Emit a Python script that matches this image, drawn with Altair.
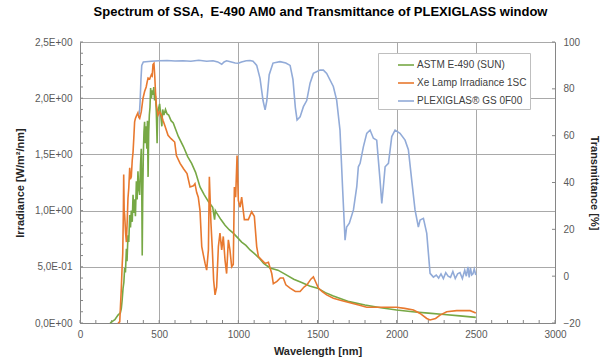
import altair as alt
import pandas as pd

TITLE = "Spectrum of SSA,\u00a0 E-490 AM0 and Transmittance of PLEXIGLASS window"
SERIES = ["ASTM E-490 (SUN)", "Xe Lamp Irradiance 1SC", "PLEXIGLAS® GS 0F00"]
COLORS = ["#77a845", "#e8792f", "#92abd8"]

astm_wl = [190, 200, 220, 240, 255, 261, 266, 272, 277, 282, 287, 293, 297, 303, 308,
           314, 319, 324, 330, 335, 340, 345, 350, 356, 361, 366, 371, 377, 382, 387,
           390, 393, 396, 400, 404, 408, 412, 417, 422, 426, 430, 434, 438, 442, 446,
           451, 455, 461, 466, 471, 477, 482, 487, 490, 495, 503, 510, 517, 522, 530,
           540, 550, 560, 575, 589, 605, 621, 653, 680, 705, 730, 758, 785, 811, 838,
           850, 855, 863, 890, 916, 942, 968, 995, 1021, 1048, 1074, 1100, 1130, 1160, 1200,
           1250, 1300, 1350, 1400, 1450, 1500, 1550, 1600, 1700, 1800, 1900, 2000, 2100, 2200, 2300,
           2400, 2500]
astm_irr = [0.0, 0.01, 0.03, 0.07, 0.09, 0.13, 0.2, 0.31, 0.36, 0.49, 0.45, 0.66, 0.55, 0.78, 0.72,
            0.96, 0.85, 1.0, 0.9, 1.14, 0.98, 1.1, 0.95, 1.26, 1.1, 1.35, 1.2, 1.14, 1.4, 1.55,
            1.2, 0.6, 1.1, 1.5, 1.7, 1.79, 1.6, 1.75, 1.55, 1.8, 1.3, 1.7, 1.85, 1.92, 2.09,
            2.0, 2.07, 2.03, 2.1, 1.98, 2.02, 1.88, 1.6, 1.85, 1.9, 1.95, 1.85, 1.75, 1.9, 1.85,
            1.9, 1.86, 1.85, 1.8, 1.78, 1.72, 1.66, 1.57, 1.48, 1.42, 1.34, 1.21, 1.14, 1.08, 1.03,
            0.92, 1.0, 0.98, 0.92, 0.87, 0.83, 0.80, 0.76, 0.72, 0.69, 0.65, 0.62, 0.58, 0.53, 0.49,
            0.47, 0.43, 0.39, 0.36, 0.33, 0.31, 0.27, 0.24, 0.19, 0.16, 0.135, 0.115, 0.10, 0.088, 0.075,
            0.063, 0.05]

xe_wl = [240, 251, 261, 266, 270, 274, 276, 279, 282, 288, 293, 298, 303, 308, 314,
         318, 324, 330, 335, 340, 345, 350, 356, 366, 372, 377, 387, 398, 408, 418,
         425, 430, 440, 451, 456, 461, 467, 472, 477, 482, 493, 503, 514, 525, 535,
         556, 575, 598, 609, 632, 655, 676, 695, 716, 726, 737, 747, 758, 769, 780,
         790, 800, 811, 817, 822, 827, 836, 844, 853, 863, 874, 884, 895, 905, 916,
         926, 937, 947, 958, 968, 975, 983, 992, 1000, 1011, 1021, 1038, 1063, 1084, 1101,
         1116, 1127, 1148, 1169, 1190, 1211, 1221, 1244, 1265, 1284, 1300, 1327, 1360, 1390, 1415,
         1434, 1458, 1474, 1490, 1506, 1530, 1558, 1600, 1650, 1705, 1760, 1811, 1900, 2000, 2050,
         2106, 2148, 2190, 2211, 2246, 2274, 2316, 2379, 2420, 2464, 2500]
xe_irr = [0.0, 0.01, 0.31, 0.5, 0.62, 1.0, 1.32, 1.0, 0.96, 0.8, 0.72, 0.9, 1.11, 1.2, 1.38,
          1.28, 1.3, 1.45, 1.52, 1.65, 1.79, 1.82, 1.84, 1.87, 1.83, 1.82, 1.88, 2.0, 2.06, 2.1,
          2.15, 2.18, 2.17, 2.21, 2.2, 2.3, 2.31, 2.2, 2.05, 1.94, 1.85, 1.88, 1.85, 1.8, 1.76,
          1.67, 1.64, 1.61, 1.49, 1.42, 1.37, 1.33, 1.21, 1.22, 1.24, 1.16, 1.12, 1.0, 0.68, 0.6,
          0.53, 0.47, 0.65, 1.3, 1.1, 0.89, 0.65, 0.38, 0.25, 0.32, 0.68, 0.8, 0.65, 0.77, 0.56,
          0.44, 0.74, 0.65, 0.5, 0.52, 1.21, 1.12, 1.49, 1.09, 1.03, 1.12, 0.92, 0.92, 0.99, 0.95,
          0.68, 0.59, 0.56, 0.53, 0.54, 0.44, 0.35, 0.37, 0.40, 0.40, 0.34, 0.31, 0.28, 0.28, 0.32,
          0.34, 0.39, 0.41, 0.36, 0.31, 0.28, 0.25, 0.22, 0.20, 0.18, 0.16, 0.14, 0.14, 0.14, 0.13,
          0.115, 0.085, 0.04, 0.027, 0.04, 0.07, 0.10, 0.11, 0.11, 0.11, 0.09]

plexi_wl = [375, 380, 385, 390, 400, 450, 500, 550, 600, 650, 700, 750, 800, 840, 870,
            895, 910, 926, 950, 980, 1000, 1020, 1050, 1074, 1093, 1116, 1137, 1156, 1169, 1180,
            1195, 1219, 1263, 1300, 1327, 1345, 1360, 1371, 1390, 1411, 1432, 1453, 1474, 1516, 1537,
            1558, 1600, 1621, 1642, 1659, 1674, 1684, 1701, 1727, 1748, 1758, 1769, 1790, 1811, 1832,
            1853, 1874, 1895, 1906, 1916, 1927, 1948, 1969, 1990, 2021, 2053, 2074, 2095, 2116, 2137,
            2148, 2169, 2190, 2211, 2232, 2250, 2265, 2280, 2295, 2310, 2325, 2340, 2355, 2370, 2385,
            2400, 2415, 2430, 2440, 2450, 2458, 2466, 2474, 2482, 2490, 2500]
plexi_t = [69, 75, 84, 90, 91.5, 91.8, 92, 92.1, 91.9, 92, 91.8, 92.2, 91.8, 92, 91.5,
           90.5, 91.5, 92, 91.6, 91, 90.9, 91.5, 92, 92.1, 91.8, 90, 84.5, 75, 71, 75,
           86, 91, 91.6, 91, 90, 84, 72, 66.7, 68, 72.4, 75, 82.4, 86.6, 88, 88,
           86.6, 81, 75.2, 62.4, 36.8, 15.4, 21, 22.6, 28.3, 38.2, 46.7, 48.2, 55.3, 61, 62.4,
           58.9, 58.1, 41, 31.1, 38.2, 46.7, 48.2, 59.6, 62.4, 61, 58.1, 54, 41, 28.3, 21,
           24, 24.7, 18.3, 1.2, -0.4, 0.5, -0.8, 1, -1, 1.5, 0, -0.5, 2, -1, 1,
           1.5, -1, 2.5, 0, 4, -0.5, 3.5, 0.5, 1, 3, 0.5]

x_ticks = [0, 500, 1000, 1500, 2000, 2500, 3000]
x_minor = list(range(0, 3001, 100))
irr_ticks = [0, 0.5, 1.0, 1.5, 2.0, 2.5]
irr_labels = ["0,0E+00", "5,0E-01", "1,0E+00", "1,5E+00", "2,0E+00", "2,5E+00"]
irr_minor = [i / 10 for i in range(0, 26)]
t_ticks = [-20, 0, 20, 40, 60, 80, 100]

W, H = 475, 281
FONT = "Liberation Sans"
LABEL_COLOR = "#595959"
TITLE_COLOR = "#262626"
AXIS_COLOR = "#868686"
GRID_COLOR = "#a9a9a9"

irr_expr = " : ".join(
    f"datum.value == {v} ? '{s}'" for v, s in zip(irr_ticks, irr_labels)
) + " : ''"

df_astm = pd.DataFrame({"wl": astm_wl, "val": astm_irr, "series": SERIES[0]})
df_xe = pd.DataFrame({"wl": xe_wl, "val": xe_irr, "series": SERIES[1]})
df_plexi = pd.DataFrame({"wl": plexi_wl, "t": plexi_t, "series": SERIES[2]})
df_xminor = pd.DataFrame({"wl": x_minor})
df_yminor = pd.DataFrame({"val": irr_minor})
df_tminor = pd.DataFrame({"t": t_ticks})

common_axis = dict(labelFont=FONT, labelFontSize=10, labelColor=LABEL_COLOR,
                   titleFont=FONT, titleFontSize=11, titleFontWeight="bold",
                   titleColor=TITLE_COLOR, domainColor=AXIS_COLOR, labelFlush=False,
                   ticks=False, tickSize=0, gridColor=GRID_COLOR, gridWidth=1)

X = alt.X("wl:Q", scale=alt.Scale(domain=[0, 3000], nice=False, zero=False),
          axis=alt.Axis(values=x_ticks, title="Wavelength [nm]", format="d",
                        grid=True, labelPadding=6, titlePadding=6, **common_axis))
Y_left = alt.Y("val:Q", scale=alt.Scale(domain=[0, 2.5], nice=False),
               axis=alt.Axis(values=irr_ticks, title="Irradiance [W/m²/nm]",
                             labelExpr=irr_expr, grid=True, labelPadding=8,
                             titlePadding=9, **common_axis))
Y_right = alt.Y("t:Q", scale=alt.Scale(domain=[-20, 100], nice=False, zero=False),
                axis=alt.Axis(values=t_ticks, title="Transmittance [%]", orient="right",
                              format="d", grid=False, labelPadding=8, titlePadding=9,
                              **common_axis))

pad = "\u00a0" * 10
color = alt.Color("series:N", scale=alt.Scale(domain=SERIES, range=COLORS),
                  legend=alt.Legend(title=None, orient="none", legendX=298, legendY=11,
                                    symbolType="stroke", symbolSize=256,
                                    symbolStrokeWidth=1.6, labelFont=FONT,
                                    labelFontSize=10, labelColor="#404040",
                                    labelOffset=2, padding=3, symbolOffset=16,
                                    rowPadding=4, strokeColor="#bfbfbf",
                                    fillColor="white",
                                    labelExpr=f"datum.label + '{pad}'"))

green = alt.Chart(df_astm).mark_line(strokeWidth=1.6).encode(x=X, y=Y_left, color=color)
orange = alt.Chart(df_xe).mark_line(strokeWidth=1.6).encode(x=X, y=Y_left, color=color)
xminor = alt.Chart(df_xminor).mark_rule(color=AXIS_COLOR).encode(
    x=X, y=alt.value(H), y2=alt.value(H - 3))
yminor = alt.Chart(df_yminor).mark_rule(color=AXIS_COLOR).encode(
    y=Y_left, x=alt.value(0), x2=alt.value(3))
left = alt.layer(xminor, yminor, green, orange)

blue = alt.Chart(df_plexi).mark_line(strokeWidth=1.6).encode(x=X, y=Y_right, color=color)
tminor = alt.Chart(df_tminor).mark_rule(color=AXIS_COLOR).encode(
    y=Y_right, x=alt.value(W - 3), x2=alt.value(W))
right = alt.layer(tminor, blue)

chart = alt.layer(left, right).resolve_scale(y="independent").properties(
    width=W, height=H,
    title=alt.TitleParams(TITLE, font=FONT, fontSize=13, fontWeight="bold",
                          color="#000000", anchor="middle", frame="group", dx=3,
                          offset=18),
    padding={"left": 80, "top": 42, "right": 49, "bottom": 41},
    autosize=alt.AutoSizeParams(type="none"),
    background="white",
).configure_view(stroke=None)

chart.save("out.html", embed_options={"renderer": "svg", "actions": False})
